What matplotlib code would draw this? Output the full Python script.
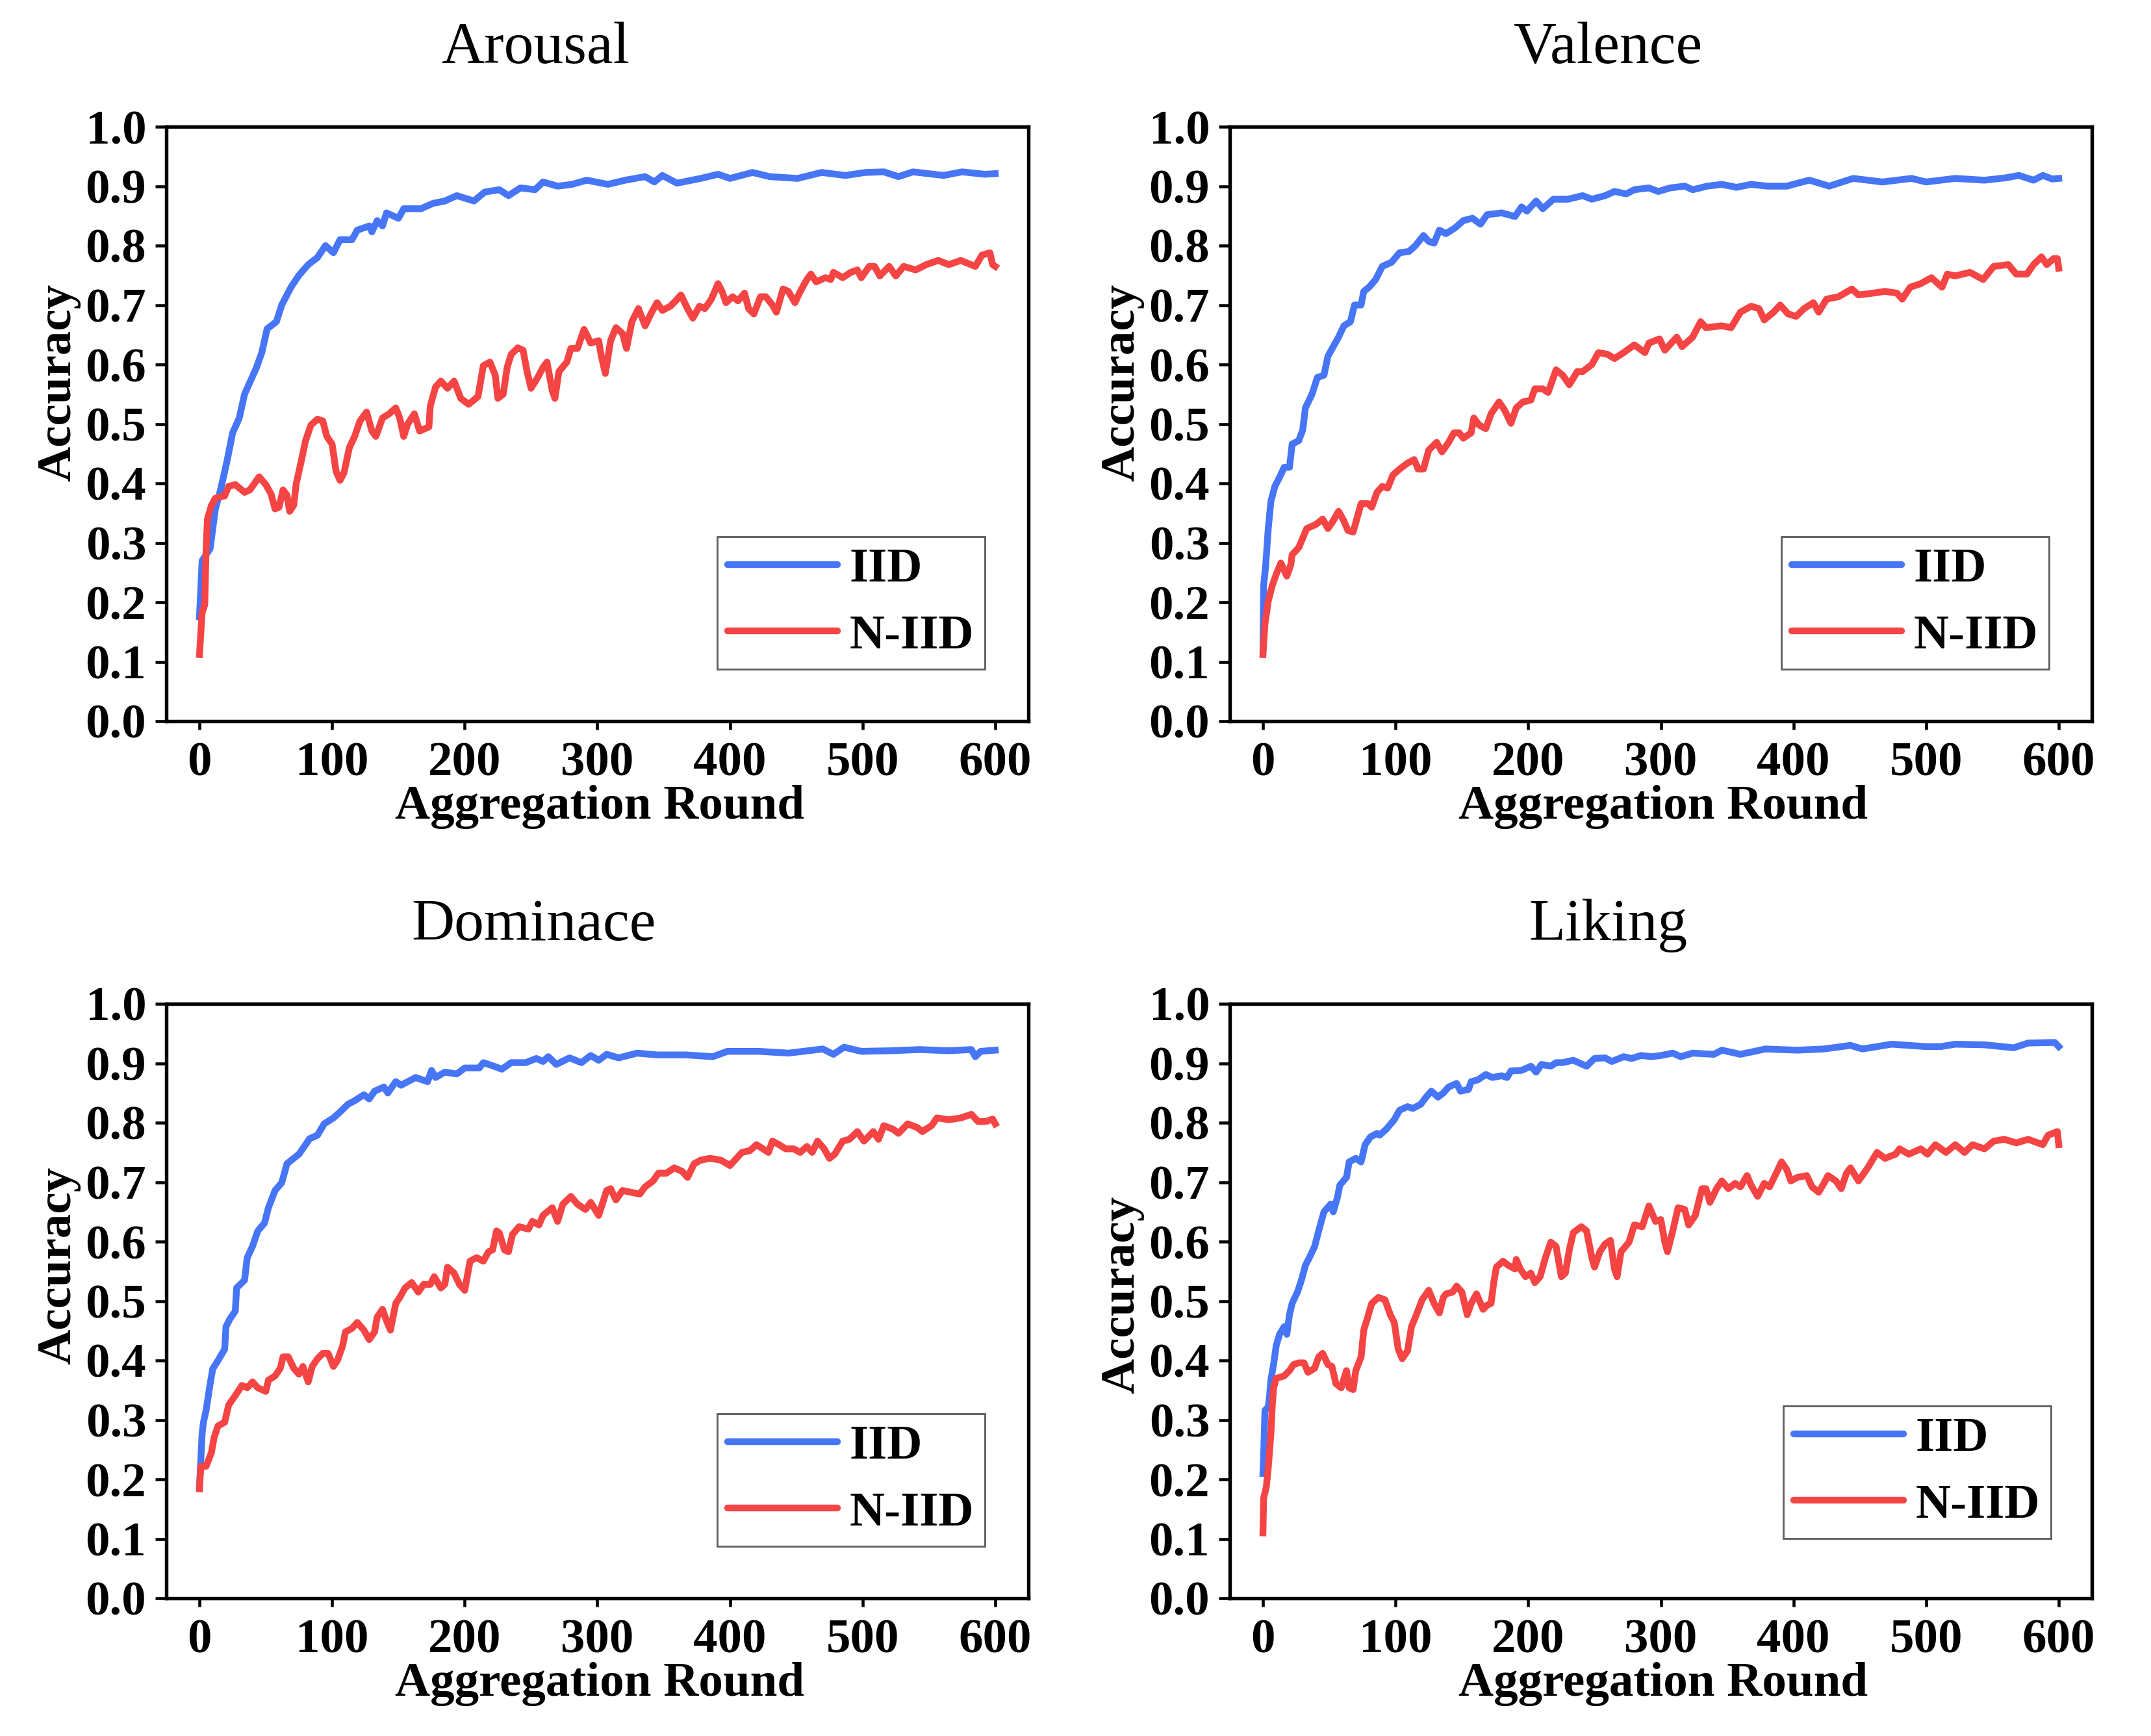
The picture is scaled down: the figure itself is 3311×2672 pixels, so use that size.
import matplotlib
matplotlib.use("Agg")
import matplotlib.pyplot as plt

# ---------------- data (round, accuracy) ----------------
arousal_iid = [(0,0.176),(2,0.27),(5,0.28),(8,0.29),(12,0.357),(16,0.39),(21,0.44),(25,0.485),(30,0.51),(34,0.55),(38,0.57),(43,0.595),(47,0.62),(51,0.66),(58,0.672),(62,0.70),(69,0.73),(75,0.75),(82,0.768),(89,0.78),(95,0.80),(101,0.788),(106,0.81),(115,0.81),(119,0.826),(128,0.833),(130,0.823),(134,0.842),(138,0.833),(141,0.855),(150,0.846),(154,0.862),(167,0.862),(176,0.871),(185,0.875),(194,0.884),(207,0.875),(215,0.89),(226,0.894),(233,0.884),(242,0.897),(253,0.894),(259,0.907),(270,0.90),(281,0.903),(292,0.91),(308,0.903),(321,0.91),(336,0.916),(343,0.907),(349,0.918),(360,0.905),(378,0.913),(391,0.92),(400,0.913),(417,0.923),(430,0.916),(451,0.913),(469,0.923),(487,0.918),(502,0.923),(516,0.924),(527,0.916),(538,0.924),(561,0.918),(575,0.924),(592,0.92),(600,0.921)]

arousal_niid = [(0,0.112),(2,0.183),(4,0.196),(5,0.29),(6,0.34),(9,0.363),(12,0.375),(19,0.379),(22,0.395),(27,0.398),(34,0.385),(38,0.389),(45,0.411),(50,0.398),(54,0.382),(57,0.357),(60,0.36),(63,0.389),(66,0.38),(68,0.353),(71,0.363),(73,0.40),(77,0.44),(80,0.472),(84,0.498),(89,0.508),(93,0.505),(96,0.479),(100,0.466),(103,0.42),(106,0.405),(109,0.418),(113,0.46),(117,0.479),(121,0.505),(126,0.52),(130,0.488),(133,0.479),(138,0.51),(143,0.517),(148,0.527),(151,0.51),(154,0.479),(157,0.50),(162,0.517),(166,0.488),(173,0.495),(174,0.53),(178,0.562),(182,0.572),(187,0.56),(192,0.572),(197,0.543),(203,0.533),(210,0.546),(214,0.598),(219,0.604),(223,0.582),(225,0.543),(229,0.55),(232,0.595),(235,0.617),(240,0.628),(244,0.624),(247,0.588),(250,0.56),(255,0.578),(259,0.595),(262,0.604),(266,0.556),(268,0.543),(271,0.588),(277,0.604),(280,0.627),(285,0.627),(290,0.659),(295,0.636),(301,0.64),(303,0.614),(306,0.585),(310,0.64),(314,0.662),(319,0.652),(322,0.627),(326,0.672),(331,0.694),(336,0.665),(341,0.688),(345,0.704),(349,0.691),(355,0.698),(359,0.707),(363,0.717),(368,0.694),(372,0.678),(377,0.698),(381,0.694),(386,0.71),(391,0.736),(394,0.723),(397,0.704),(402,0.714),(406,0.707),(411,0.72),(414,0.694),(418,0.685),(423,0.714),(427,0.714),(432,0.70),(435,0.688),(440,0.727),(444,0.723),(449,0.704),(453,0.723),(458,0.743),(461,0.752),(465,0.739),(472,0.746),(476,0.743),(478,0.755),(485,0.746),(491,0.755),(496,0.759),(499,0.746),(505,0.765),(509,0.765),(513,0.749),(520,0.765),(525,0.749),(531,0.765),(540,0.759),(548,0.768),(557,0.775),(565,0.768),(574,0.775),(585,0.765),(590,0.784),(596,0.788),(598,0.768),(600,0.765)]

valence_iid = [(0,0.118),(0.5,0.228),(2,0.26),(4,0.324),(6,0.37),(9,0.395),(12,0.408),(16,0.427),(20,0.427),(22,0.466),(27,0.472),(30,0.49),(32,0.527),(37,0.55),(41,0.578),(46,0.582),(49,0.614),(53,0.63),(57,0.646),(61,0.665),(66,0.672),(69,0.70),(74,0.70),(76,0.723),(80,0.73),(85,0.743),(90,0.765),(97,0.772),(103,0.788),(110,0.79),(115,0.80),(121,0.817),(125,0.807),(129,0.804),(133,0.826),(138,0.82),(145,0.83),(151,0.842),(158,0.846),(164,0.836),(169,0.852),(180,0.855),(190,0.849),(195,0.865),(199,0.858),(206,0.875),(211,0.862),(219,0.878),(230,0.878),(241,0.884),(248,0.878),(258,0.884),(265,0.891),(274,0.887),(280,0.894),(291,0.897),(298,0.891),(307,0.897),(318,0.90),(324,0.894),(335,0.90),(346,0.903),(357,0.898),(368,0.903),(380,0.90),(395,0.90),(405,0.906),(412,0.91),(427,0.90),(445,0.913),(467,0.907),(489,0.913),(500,0.907),(522,0.913),(544,0.91),(560,0.914),(570,0.918),(581,0.91),(588,0.918),(595,0.912),(600,0.913)]

valence_niid = [(0,0.112),(1.5,0.163),(4,0.202),(7,0.228),(10,0.247),(13.5,0.266),(18,0.244),(21,0.263),(22,0.28),(27,0.292),(30,0.308),(33,0.324),(40,0.331),(45,0.34),(49,0.324),(53,0.337),(57,0.353),(61,0.337),(64,0.321),(68,0.318),(72,0.35),(74,0.366),(79,0.366),(82,0.36),(86,0.385),(90,0.395),(94,0.392),(98,0.414),(103,0.424),(109,0.434),(114,0.44),(117,0.424),(121,0.424),(125,0.456),(131,0.469),(135,0.453),(140,0.469),(144,0.485),(148,0.485),(151,0.476),(157,0.485),(159,0.51),(163,0.498),(168,0.492),(172,0.517),(178,0.537),(182,0.524),(187,0.501),(191,0.527),(196,0.537),(202,0.54),(205,0.559),(211,0.559),(215,0.553),(218,0.572),(221,0.591),(226,0.582),(231,0.566),(237,0.588),(241,0.588),(248,0.60),(253,0.62),(260,0.617),(265,0.61),(272,0.62),(280,0.633),(288,0.62),(291,0.636),(299,0.643),(303,0.624),(312,0.646),(316,0.63),(324,0.646),(330,0.672),(334,0.662),(346,0.665),(353,0.662),(360,0.688),(368,0.698),(374,0.694),(378,0.675),(385,0.688),(390,0.70),(396,0.685),(402,0.681),(408,0.694),(415,0.704),(419,0.688),(425,0.71),(434,0.714),(444,0.727),(449,0.717),(460,0.72),(469,0.723),(478,0.72),(482,0.71),(488,0.73),(496,0.736),(504,0.746),(512,0.73),(516,0.752),(522,0.749),(533,0.755),(543,0.743),(551,0.765),(562,0.768),(568,0.752),(576,0.752),(581,0.768),(587,0.781),(591,0.768),(596,0.778),(599,0.778),(600,0.762)]

dominace_iid = [(0,0.187),(1,0.232),(2,0.277),(3,0.296),(5,0.316),(8,0.36),(10,0.386),(14,0.40),(19,0.419),(20,0.457),(23,0.47),(27,0.483),(28,0.522),(34,0.535),(36,0.573),(40,0.592),(44,0.618),(49,0.631),(52,0.657),(57,0.686),(62,0.699),(66,0.731),(71,0.74),(75,0.747),(80,0.763),(83,0.773),(89,0.779),(94,0.798),(101,0.808),(106,0.818),(112,0.831),(117,0.837),(124,0.847),(128,0.84),(132,0.853),(139,0.86),(142,0.85),(148,0.869),(152,0.863),(163,0.876),(172,0.869),(175,0.888),(178,0.876),(185,0.885),(194,0.882),(200,0.892),(211,0.892),(214,0.901),(222,0.895),(228,0.89),(235,0.901),(246,0.901),(254,0.908),(259,0.903),(263,0.911),(269,0.898),(279,0.909),(288,0.901),(295,0.913),(301,0.905),(307,0.915),(316,0.909),(330,0.917),(345,0.914),(367,0.914),(387,0.911),(398,0.92),(422,0.92),(444,0.917),(470,0.924),(478,0.915),(486,0.927),(499,0.92),(521,0.921),(543,0.923),(565,0.921),(582,0.923),(585,0.911),(589,0.92),(600,0.922)]

dominace_niid = [(0,0.184),(1,0.222),(5,0.222),(9,0.245),(11,0.27),(14,0.29),(19,0.296),(22,0.325),(27,0.341),(32,0.358),(36,0.354),(40,0.364),(44,0.354),(50,0.348),(52,0.367),(57,0.374),(61,0.387),(63,0.406),(67,0.406),(71,0.387),(75,0.377),(78,0.39),(82,0.364),(85,0.39),(89,0.403),(93,0.412),(97,0.412),(101,0.39),(104,0.40),(108,0.425),(110,0.448),(115,0.454),(119,0.464),(124,0.451),(128,0.435),(132,0.448),(134,0.473),(138,0.486),(141,0.467),(144,0.451),(148,0.496),(151,0.506),(155,0.522),(160,0.531),(165,0.515),(169,0.528),(174,0.528),(177,0.541),(182,0.522),(185,0.528),(187,0.557),(192,0.547),(196,0.528),(200,0.518),(204,0.567),(209,0.573),(214,0.567),(218,0.583),(221,0.586),(224,0.618),(226,0.615),(230,0.586),(233,0.583),(236,0.612),(241,0.625),(248,0.621),(251,0.634),(256,0.628),(259,0.644),(266,0.657),(270,0.634),(274,0.663),(280,0.676),(285,0.663),(291,0.654),(295,0.666),(301,0.644),(307,0.686),(310,0.689),(314,0.67),(319,0.686),(325,0.683),(332,0.68),(336,0.692),(342,0.702),(346,0.715),(352,0.715),(358,0.724),(364,0.718),(368,0.708),(373,0.731),(378,0.737),(385,0.74),(393,0.737),(400,0.728),(409,0.75),(415,0.753),(420,0.763),(429,0.75),(432,0.769),(437,0.763),(442,0.756),(448,0.756),(453,0.75),(458,0.76),(462,0.75),(466,0.769),(471,0.756),(475,0.74),(479,0.747),(485,0.769),(490,0.772),(496,0.785),(501,0.769),(508,0.785),(512,0.772),(516,0.795),(523,0.789),(527,0.782),(534,0.798),(541,0.792),(545,0.785),(552,0.795),(556,0.808),(565,0.805),(574,0.808),(582,0.814),(587,0.802),(593,0.802),(598,0.806),(600,0.798)]

liking_iid = [(0,0.21),(0.5,0.239),(1.5,0.316),(4,0.322),(5,0.341),(6,0.367),(8,0.393),(10,0.425),(12.5,0.444),(16,0.457),(18,0.444),(20,0.477),(22,0.496),(26,0.515),(29,0.535),(32,0.56),(35,0.573),(39,0.592),(42,0.618),(46,0.65),(51,0.663),(53,0.65),(56,0.673),(58,0.695),(63,0.708),(65,0.734),(70,0.74),(74,0.734),(77,0.763),(81,0.776),(86,0.782),(88,0.779),(93,0.789),(99,0.805),(103,0.821),(109,0.827),(113,0.824),(119,0.831),(123,0.843),(127,0.853),(132,0.843),(136,0.85),(140,0.86),(146,0.866),(149,0.853),(155,0.856),(157,0.869),(162,0.872),(168,0.881),(173,0.876),(180,0.879),(184,0.876),(187,0.887),(195,0.888),(202,0.895),(206,0.885),(210,0.898),(217,0.895),(221,0.901),(226,0.901),(234,0.905),(244,0.895),(250,0.908),(258,0.909),(263,0.903),(272,0.911),(278,0.908),(285,0.913),(293,0.911),(300,0.913),(309,0.917),(315,0.911),(324,0.917),(340,0.915),(346,0.922),(360,0.915),(379,0.924),(390,0.923),(403,0.922),(423,0.924),(443,0.93),(452,0.924),(474,0.932),(500,0.928),(511,0.928),(522,0.932),(544,0.931),(566,0.926),(577,0.934),(597,0.935),(600,0.928)]

liking_niid = [(0,0.11),(0.5,0.168),(2.5,0.187),(4,0.219),(6,0.277),(7,0.322),(8,0.354),(10,0.37),(16,0.374),(20,0.383),(23,0.393),(27,0.396),(31,0.396),(34,0.38),(39,0.387),(42,0.406),(45,0.412),(49,0.393),(52,0.39),(55,0.361),(59,0.354),(63,0.383),(65,0.354),(68,0.351),(70,0.383),(74,0.406),(76,0.451),(79,0.473),(82,0.496),(87,0.506),(92,0.502),(96,0.477),(99,0.464),(102,0.419),(105,0.403),(109,0.416),(112,0.457),(115,0.473),(120,0.502),(125,0.518),(129,0.496),(133,0.48),(136,0.506),(138,0.512),(143,0.515),(146,0.525),(150,0.515),(154,0.477),(157,0.496),(161,0.512),(166,0.486),(169,0.493),(172,0.496),(174,0.531),(176,0.557),(181,0.567),(185,0.56),(190,0.554),(191,0.57),(194,0.554),(198,0.541),(202,0.547),(205,0.531),(209,0.541),(213,0.573),(217,0.599),(221,0.592),(225,0.541),(228,0.547),(231,0.586),(234,0.615),(240,0.625),(244,0.618),(248,0.573),(250,0.557),(254,0.583),(258,0.596),(262,0.602),(265,0.554),(267,0.541),(270,0.583),(276,0.599),(280,0.628),(286,0.625),(291,0.66),(296,0.634),(300,0.637),(303,0.599),(305,0.583),(309,0.618),(313,0.657),(318,0.654),(321,0.628),(326,0.644),(331,0.689),(334,0.689),(337,0.666),(342,0.689),(346,0.702),(351,0.689),(356,0.698),(360,0.692),(365,0.711),(368,0.695),(373,0.676),(378,0.698),(382,0.692),(387,0.715),(391,0.734),(395,0.721),(398,0.702),(403,0.708),(410,0.711),(414,0.692),(419,0.683),(423,0.698),(426,0.711),(432,0.702),(436,0.689),(440,0.715),(443,0.724),(449,0.702),(456,0.724),(463,0.75),(469,0.74),(477,0.747),(480,0.756),(487,0.747),(496,0.756),(501,0.747),(507,0.763),(515,0.75),(522,0.763),(529,0.75),(535,0.763),(544,0.756),(551,0.769),(559,0.772),(568,0.766),(577,0.772),(588,0.763),(592,0.779),(599,0.785),(600,0.763)]

titles = ["Arousal", "Valence", "Dominace", "Liking"]
series_labels = ["IID", "N-IID"]
x_ticks = [0, 100, 200, 300, 400, 500, 600]
y_ticks = [0.0, 0.1, 0.2, 0.3, 0.4, 0.5, 0.6, 0.7, 0.8, 0.9, 1.0]
y_tick_labels = ["0.0", "0.1", "0.2", "0.3", "0.4", "0.5", "0.6", "0.7", "0.8", "0.9", "1.0"]

# ---------------- styling ----------------
plt.rcParams["font.family"] = ["Liberation Serif", "DejaVu Serif"]
plt.rcParams["font.weight"] = "bold"

BLUE = "#4675F6"
RED = "#F54444"

W, H, DPI = 3312, 2672, 300
fig = plt.figure(figsize=(W / DPI, H / DPI), dpi=DPI)
fig.patch.set_facecolor("white")

def rect(left, top, right, bottom):
    return [left / W, 1 - bottom / H, (right - left) / W, (bottom - top) / H]

layout = [
    # axes box px, legend anchor (axes frac), title x, ylabel y
    ((256, 195, 1583, 1110), (0.9495, 0.0874), 0.428, 0.57),
    ((1893, 195, 3220, 1110), (0.950, 0.0874), 0.4386, 0.57),
    ((256, 1545, 1583, 2460), (0.9495, 0.0874), 0.426, 0.56),
    ((1893, 1545, 3220, 2460), (0.9525, 0.1005), 0.4386, 0.51),
]
data = [(arousal_iid, arousal_niid), (valence_iid, valence_niid),
        (dominace_iid, dominace_niid), (liking_iid, liking_niid)]

for title, (iid, niid), (box, leg_anchor, tx, ly) in zip(titles, data, layout):
    ax = fig.add_axes(rect(*box))
    for series, color, lab in ((iid, BLUE, series_labels[0]), (niid, RED, series_labels[1])):
        xs = [p[0] for p in series]
        ys = [p[1] for p in series]
        ax.plot(xs, ys, color=color, lw=2.5, label=lab, solid_joinstyle="round")
    ax.set_xlim(-25, 625)
    ax.set_ylim(0, 1)
    ax.set_xticks(x_ticks)
    ax.set_xticklabels([str(t) for t in x_ticks])
    ax.set_yticks(y_ticks)
    ax.set_yticklabels(y_tick_labels)
    for s in ax.spines.values():
        s.set_linewidth(1.3)
    ax.tick_params(axis="both", direction="out", width=1.1, labelsize=18, colors="black")
    ax.tick_params(axis="y", length=4, pad=3.4)
    ax.tick_params(axis="x", length=3.2, pad=4.3)
    ax.set_xlabel("Aggregation Round", fontsize=18, fontweight="bold", va="baseline")
    ax.xaxis.set_label_coords(0.503, -0.164)
    ax.set_ylabel("Accuracy", fontsize=18, fontweight="bold", va="center", ha="center")
    ax.yaxis.set_label_coords(-0.125, ly)
    ax.text(tx, 1.107, title, transform=ax.transAxes, ha="center", va="baseline",
            fontsize=22, fontweight="normal")
    leg = ax.legend(loc="lower right", bbox_to_anchor=leg_anchor, borderaxespad=0,
                    fancybox=False, frameon=True, prop={"size": 18, "weight": "bold"},
                    handlelength=2.25, handletextpad=0.25, labelspacing=0.45,
                    borderpad=0.22)
    frame = leg.get_frame()
    frame.set_edgecolor("#3a3a3a")
    frame.set_linewidth(0.7)
    for line in leg.get_lines():
        line.set_linewidth(2.5)
        line.set_solid_capstyle("round")

fig.savefig("out.png", dpi=DPI, facecolor="white")
